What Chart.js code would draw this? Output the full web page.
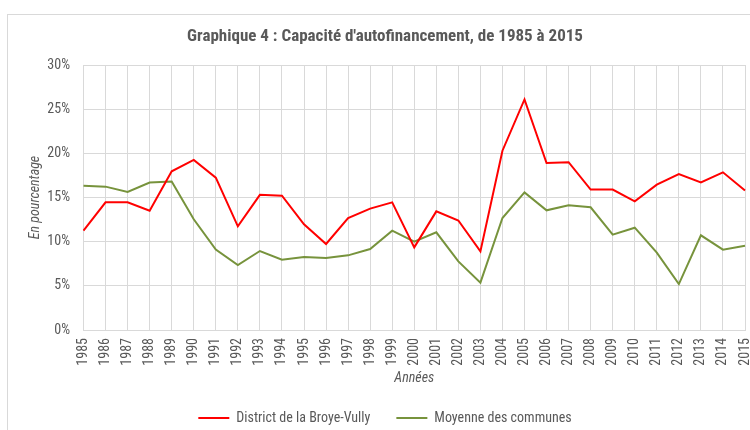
<!DOCTYPE html>
<html>
<head>
<meta charset="utf-8">
<script src="https://cdn.jsdelivr.net/npm/chart.js@4"></script>
<style>
html,body{margin:0;padding:0;background:#fff;overflow:hidden;width:750px;height:430px;}
#frame{position:absolute;left:7px;top:14px;width:800px;height:500px;border:1px solid #d9d9d9;box-sizing:border-box;}
#wrap{position:absolute;left:0;top:0;width:750px;height:435px;}
</style>
</head>
<body>
<div id="frame"></div>
<div id="wrap"><canvas id="c" width="750" height="435"></canvas></div>
<script>
const years = ['1985','1986','1987','1988','1989','1990','1991','1992','1993','1994','1995','1996','1997','1998','1999','2000','2001','2002','2003','2004','2005','2006','2007','2008','2009','2010','2011','2012','2013','2014','2015'];
const districtBroyeVully = [11.25,14.45,14.45,13.5,17.96,19.25,17.25,11.74,15.3,15.2,11.96,9.74,12.68,13.74,14.45,9.36,13.43,12.4,8.9,20.3,26.1,18.9,19.0,15.9,15.9,14.57,16.45,17.66,16.7,17.85,15.8];
const moyenneCommunes = [16.34,16.23,15.62,16.7,16.8,12.53,9.1,7.36,8.94,7.96,8.26,8.15,8.45,9.17,11.25,10.0,11.06,7.77,5.36,12.68,15.58,13.55,14.11,13.89,10.8,11.58,8.75,5.2,10.72,9.1,9.55];
const seriesNames = ['District de la Broye-Vully','Moyenne des communes'];
const titleText = "Graphique 4 : Capacité d'autofinancement, de 1985 à 2015";

const FONT = "'Liberation Sans Narrow','Arial Narrow','Roboto Condensed','Liberation Sans',sans-serif";
const GRAY = '#595959';
const GRID = '#d9d9d9';
Chart.defaults.font.family = FONT;
Chart.defaults.color = GRAY;

new Chart(document.getElementById('c'), {
  type: 'line',
  data: {
    labels: years,
    datasets: [
      {label: seriesNames[0], data: districtBroyeVully, borderColor: '#ff0000', backgroundColor: '#ff0000', borderWidth: 2, pointRadius: 0, tension: 0},
      {label: seriesNames[1], data: moyenneCommunes, borderColor: '#77933c', backgroundColor: '#77933c', borderWidth: 2, pointRadius: 0, tension: 0}
    ]
  },
  options: {
    responsive: false,
    animation: false,
    layout: {padding: {left: 25, right: 5, top: 0, bottom: 0}},
    plugins: {
      title: {display: true, text: titleText, color: GRAY, font: {size: 17, weight: 'bold', family: FONT}, padding: {top: 27, bottom: 17.6}},
      legend: {position: 'bottom', labels: {usePointStyle: true, pointStyle: 'line', pointStyleWidth: 31, boxHeight: 2, color: GRAY, font: {size: 14}, padding: 26}},
      tooltip: {enabled: false}
    },
    scales: {
      x: {
        offset: false,
        grid: {color: GRID, drawTicks: false},
        border: {color: GRID},
        ticks: {maxRotation: 90, minRotation: 90, autoSkip: false, padding: 8, color: GRAY, font: {size: 14}},
        title: {display: true, text: 'Années', color: GRAY, font: {size: 14, style: 'italic'}, padding: {top: 0, bottom: -2}},
        afterFit: s => { s.height = 55; s.paddingLeft = 0; s.paddingRight = 0; }
      },
      y: {
        min: 0, max: 30,
        grid: {color: GRID, drawTicks: false},
        border: {color: GRID},
        ticks: {stepSize: 5, padding: 13.5, color: GRAY, font: {size: 14}, callback: v => v + '%'},
        title: {display: true, text: 'En pourcentage', color: GRAY, font: {size: 14, style: 'italic'}, padding: {top: 1.6, bottom: 0}},
        afterFit: s => { s.width = 58.5; s.paddingTop = 0; s.paddingBottom = 0; }
      }
    }
  }
});
</script>
</body>
</html>
